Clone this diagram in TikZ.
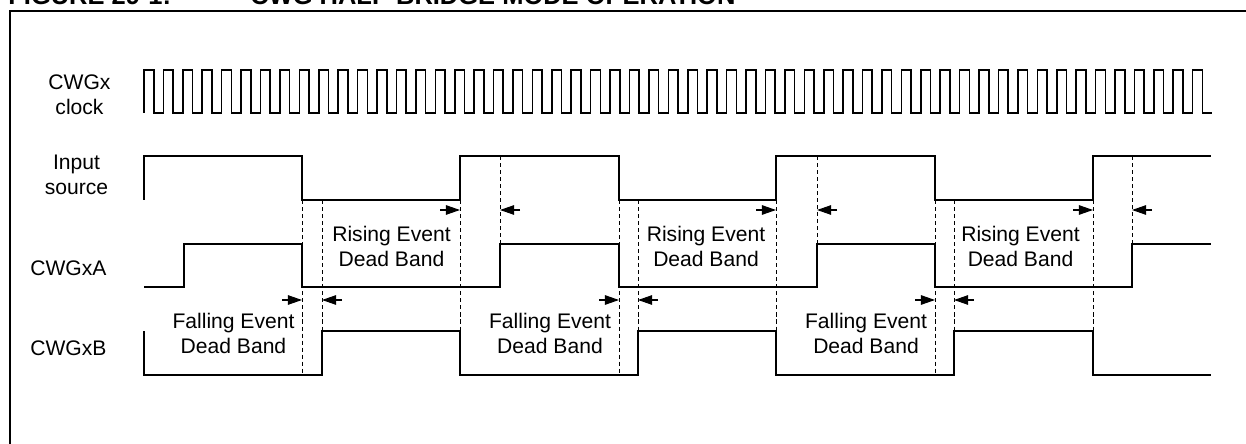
\documentclass[tikz,border=0pt]{standalone}
\usepackage{fontspec}
\setmainfont{Liberation Sans}
\usetikzlibrary{arrows.meta}

\begin{document}
\begin{tikzpicture}[
    x=0.2mm, y=-0.2mm,
    wave/.style={line width=1.1pt, line join=miter},
    clk/.style={line width=0.9pt, line join=miter},
    guide/.style={line width=0.5pt, dash pattern=on 2.3pt off 1.7pt},
    band/.style={-{Triangle[length=8pt, width=5.4pt]}, line width=0.6pt},
    lbl/.style={font=\fontsize{12}{14.5}\selectfont, align=center, inner sep=0pt},
    title/.style={font=\fontsize{14.5}{17}\selectfont\bfseries, anchor=base west, inner sep=0pt}
]
\useasboundingbox (0,0) rectangle (1246,444);

% Title (cut by the page edge)
\node[title] (fig) at (8,5) {FIGURE 29-1:};
\node[title] (caption) at (250,5) {CWG HALF-BRIDGE MODE OPERATION};

% Frame
\draw[line width=1.2pt] (10,11) rectangle (1300,500);

% Signal names
\node[lbl] (clklbl) at (79.5,95) {CWGx\\clock};
\node[lbl] (inlbl) at (76.5,175) {Input\\source};
\node[lbl, anchor=west] (albl) at (30,268) {CWGxA};
\node[lbl, anchor=west] (blbl) at (30,348) {CWGxB};

% Clock
\draw[clk] (144,113) \foreach \k in {1,...,55} { -- ++(0,-43) -- ++(9.71,0) -- ++(0,43) -- ++(9.71,0) };

% Input source
\draw[wave] (144,200) |- (302,156) |- (460,200) |- (619,156) |- (776,200)
    |- (935,156) |- (1093,200) |- (1211,156);

% CWGxA
\draw[wave] (144,287) -| (184,244) -| (302,287) -| (500,244) -| (619,287)
    -| (817,244) -| (935,287) -| (1132,244) -- (1211,244);

% CWGxB
\draw[wave] (144,331) |- (322,375) |- (460,331) |- (638,375) |- (776,331)
    |- (954,375) |- (1093,331) |- (1211,375);

% Dead band guides
\foreach \gx/\gt/\gb in {302/200/375, 322/200/331, 460/200/331, 500/156/244,
                         619/200/375, 638/200/331, 776/200/331, 817/156/244,
                         935/200/375, 954/200/331, 1093/200/331, 1132/156/244}
    \draw[guide] (\gx,\gt) -- (\gx,\gb);

% Dead band arrows
\foreach \fa/\fb/\ra/\rb in {302/322/460/500, 619/638/776/817, 935/954/1093/1132} {
    \draw[band] (\fa-20,300) -- (\fa,300);
    \draw[band] (\fb+20,300) -- (\fb,300);
    \draw[band] (\ra-20,210) -- (\ra,210);
    \draw[band] (\rb+20,210) -- (\rb,210);
}

% Dead band names
\foreach \i/\rx/\fx in {1/391.5/233.5, 2/706/550, 3/1020.5/866} {
    \node[lbl] (rise\i) at (\rx,246.5) {Rising Event\\Dead Band};
    \node[lbl] (fall\i) at (\fx,333.5) {Falling Event\\Dead Band};
}

\end{tikzpicture}
\end{document}
